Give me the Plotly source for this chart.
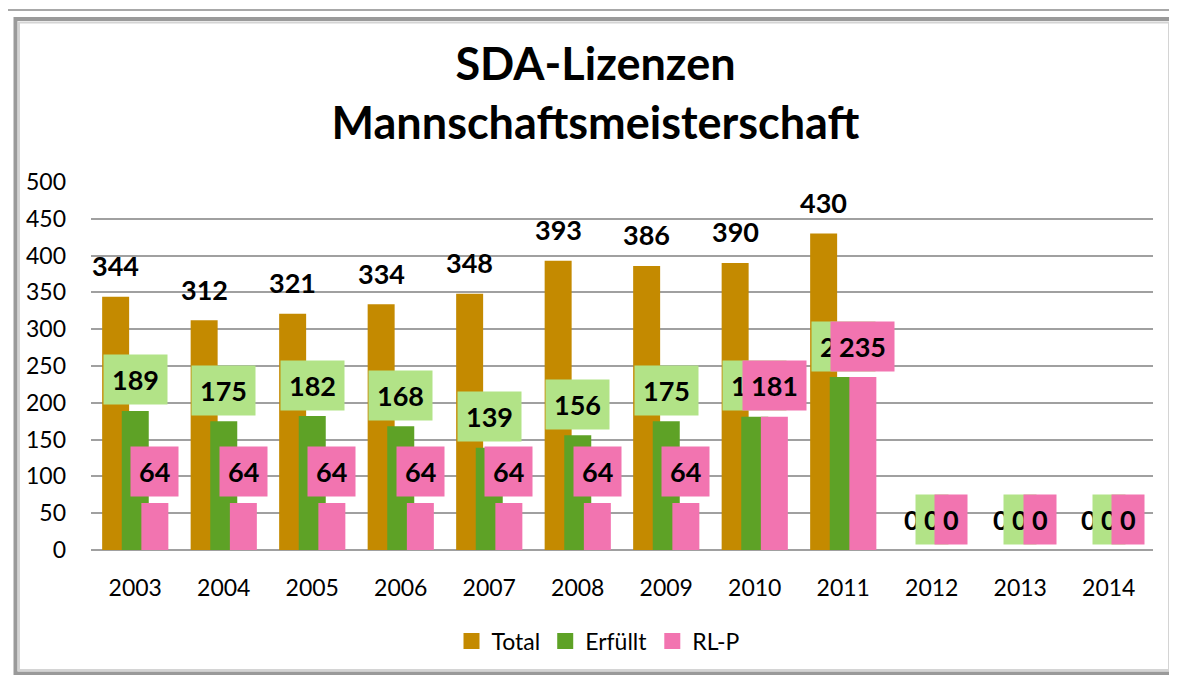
import plotly.graph_objects as go

years = ["2003", "2004", "2005", "2006", "2007", "2008", "2009", "2010", "2011", "2012", "2013", "2014"]
total = [344, 312, 321, 334, 348, 393, 386, 390, 430, 0, 0, 0]
erfuellt = [189, 175, 182, 168, 139, 156, 175, 181, 235, 0, 0, 0]
rlp = [64, 64, 64, 64, 64, 64, 64, 181, 235, 0, 0, 0]

C_TOTAL = "#C48A00"
C_ERF = "#5EA226"
C_RLP = "#F274B0"
C_ERF_LBL = "#B2E387"

# page body has an 8px default margin; lay the figure out in window pixels minus that
OFF = 8
W, H = 1177 - OFF, 675 - OFF
PL, PR, PT, PB = 91, 1153, 182, 550          # plot-area box in window pixels
ML, MT = PL - OFF, PT - OFF
PW, PH = PR - PL, PB - PT
MR = W - ML - PW
MB = H - MT - PH
CAT_PX = PW / len(years)

BAR_W = 0.305
STEP = 0.2215
centers = {"Total": -STEP, "Erfüllt": 0.0, "RL-P": STEP}

series = [("Total", total, C_TOTAL), ("Erfüllt", erfuellt, C_ERF), ("RL-P", rlp, C_RLP)]

fig = go.Figure()
for name, vals, col in series:
    fig.add_trace(go.Bar(
        x=years, y=vals, name=name, marker=dict(color=col, line=dict(width=0)),
        width=BAR_W, offset=centers[name] - BAR_W / 2, showlegend=False,
    ))
# legend entries with larger square swatches
for name, vals, col in series:
    fig.add_trace(go.Scatter(
        x=[None], y=[None], mode="markers", name=name,
        marker=dict(symbol="square", size=16, color=col), hoverinfo="skip",
    ))

FONT = "Lato, 'Open Sans', sans-serif"
annos = []
for name, vals, bg in [("Total", total, None), ("Erfüllt", erfuellt, C_ERF_LBL), ("RL-P", rlp, C_RLP)]:
    for i, v in enumerate(vals):
        a = dict(x=i, y=v, xref="x", yref="y", text=str(v), showarrow=False,
                 xanchor="center", yanchor="middle", yshift=31,
                 xshift=centers[name] * CAT_PX,
                 font=dict(family=FONT, size=27, color="black", weight="bold"))
        if bg:
            a.update(bgcolor=bg, borderpad=8)
        annos.append(a)

def px(x):
    return (x - PL) / PW

def py(y):
    return (PB - y) / PH

shapes = [
    dict(type="rect", xref="paper", yref="paper", x0=px(7), y0=py(10), x1=px(1195), y1=py(695),
         line=dict(color="#A8A8A8", width=2), layer="above"),
    dict(type="rect", xref="paper", yref="paper", x0=px(15.5), y0=py(19), x1=px(1172.5), y1=py(673.5),
         line=dict(color="#9A9A9A", width=4), layer="above"),
    dict(type="rect", xref="paper", yref="paper", x0=px(19), y0=py(22.5), x1=px(1169), y1=py(670),
         line=dict(color="#D4D4D4", width=2), layer="above"),
]

fig.update_layout(
    width=W, height=H,
    margin=dict(l=ML, r=MR, t=MT, b=MB, autoexpand=False),
    paper_bgcolor="white", plot_bgcolor="white",
    barmode="overlay",
    font=dict(family=FONT, size=23, color="black"),
    title=dict(text="SDA-Lizenzen<br>Mannschaftsmeisterschaft",
               font=dict(family=FONT, size=45, color="black", weight="bold"),
               x=(595.5 - OFF) / W, xanchor="center", y=1 - 72 / H, yanchor="middle",
               xref="container", yref="container"),
    xaxis=dict(type="category", range=[-0.5, len(years) - 0.5], autorange=False,
               showgrid=False, showline=False, ticks="", automargin=False,
               tickfont=dict(size=23), ticklabelstandoff=22),
    yaxis=dict(range=[0, 500], autorange=False, dtick=50, showgrid=True, gridcolor="#A0A0A0", gridwidth=1.5,
               zeroline=True, zerolinecolor="#A0A0A0", zerolinewidth=1.5, automargin=False,
               showline=False, ticks="", tickfont=dict(size=23), ticklabelstandoff=24),
    legend=dict(orientation="h", x=px(598), xanchor="center", y=py(641), yanchor="middle",
                font=dict(size=23), bgcolor="rgba(0,0,0,0)", itemwidth=30, tracegroupgap=0),
    annotations=annos,
    shapes=shapes,
)

fig.write_html("out.html")
